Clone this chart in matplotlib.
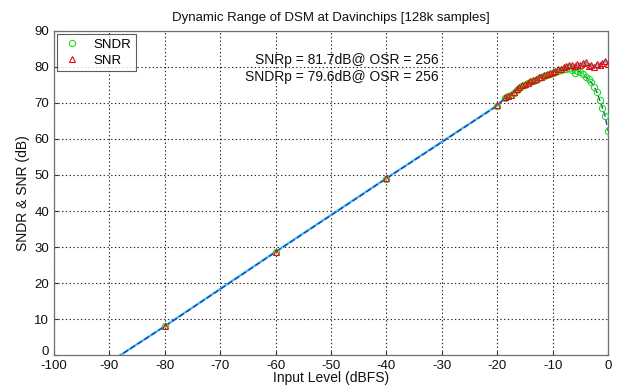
import matplotlib
matplotlib.use("Agg")
import matplotlib.pyplot as plt
import matplotlib.transforms as mtransforms
import numpy as np

plt.rcParams['font.family'] = ['Liberation Sans', 'DejaVu Sans']
plt.rcParams['axes.unicode_minus'] = False

# Input levels (dBFS): coarse sweep, then a fine sweep near full scale
input_level = [-90, -80, -60, -40, -20,
               -18.5, -18, -17.5, -17, -16.5, -16, -15.5, -15, -14.5, -14,
               -13.5, -13, -12.5, -12, -11.5, -11, -10.5, -10, -9.5, -9,
               -8.5, -8, -7.5, -7, -6.5, -6, -5.5, -5, -4.5, -4,
               -3.5, -3, -2.5, -2, -1.5, -1, -0.5, 0]

snr = [-2.0, 8.05, 28.7, 49.1, 69.3,
       71.6, 71.9, 72.3, 73.0, 73.8, 74.4, 74.9, 75.3, 75.6, 76.0,
       76.3, 76.7, 77.1, 77.3, 77.8, 78.0, 78.4, 78.6, 79.0, 79.3,
       79.5, 79.9, 80.2, 80.6, 80.4, 80.2, 80.7, 80.5, 81.0, 81.3,
       80.3, 80.6, 80.0, 80.8, 80.4, 81.0, 81.7, 80.9]

sndr = [-2.0, 8.0, 28.6, 49.0, 69.2,
        71.5, 71.8, 72.2, 72.8, 73.6, 74.2, 74.7, 75.1, 75.4, 75.8,
        76.1, 76.5, 76.8, 77.1, 77.5, 77.8, 78.1, 78.3, 78.6, 78.9,
        79.1, 79.3, 79.5, 79.6, 79.2, 78.3, 78.9, 78.6, 78.0, 77.2,
        76.6, 75.7, 74.5, 73.0, 70.8, 68.7, 66.3, 62.3]

snr_peak = 81.7
sndr_peak = 79.6
osr = 256

x_ticks = list(range(-100, 1, 10))
y_ticks = list(range(0, 91, 10))

fig = plt.figure(figsize=(6.21, 3.86), dpi=100)
ax = fig.add_axes([0.087, 0.080, 0.892, 0.840])

x = np.array(input_level)
ax.plot(x, snr, '-', color='#3fbcf0', lw=1.6, zorder=2)
ax.plot(x, sndr, '--', color='#1d3fae', lw=1.0, dashes=(4, 2), zorder=3)
ax.plot(x, sndr, 'o', ms=4.5, mfc='none', mec='#22dd22', mew=0.8,
        label='SNDR', zorder=4)
ax.plot(x, snr, '^', ms=4.5, mfc='none', mec='#e01010', mew=0.8,
        label='SNR', zorder=5)

ax.set_xlim(-100, 0)
ax.set_ylim(0, 90)
ax.set_xticks(x_ticks)
ax.set_yticks(y_ticks)
ax.grid(True, color='#222222', linestyle=(0, (1.2, 2.2)), lw=0.8)
ax.tick_params(direction='in', length=3, labelsize=9.5, colors='#333333',
               labelcolor='#111111')
for s in ax.spines.values():
    s.set_color('#707070')
    s.set_linewidth(0.9)

# lift the bottom y tick label slightly so it clears the first x tick label
lbl0 = ax.get_yticklabels()[0]
lbl0.set_transform(lbl0.get_transform() +
                   mtransforms.ScaledTranslation(0, 3 / 72, fig.dpi_scale_trans))

ax.set_title('Dynamic Range of DSM at Davinchips [128k samples]',
             fontsize=9.5, pad=7, color='#111111')
ax.set_xlabel('Input Level (dBFS)', fontsize=10, labelpad=-1, color='#111111')
ax.set_ylabel('SNDR & SNR (dB)', fontsize=10, labelpad=3, color='#111111')

ax.text(-30.5, 81.9, f'SNRp = {snr_peak}dB@ OSR = {osr}', ha='right',
        va='center', fontsize=10, color='#111111')
ax.text(-30.5, 77.2, f'SNDRp = {sndr_peak}dB@ OSR = {osr}', ha='right',
        va='center', fontsize=10, color='#111111')

leg = ax.legend(loc='upper left', fontsize=9.5, frameon=True, fancybox=False,
                borderaxespad=0.25, handlelength=1.6, borderpad=0.35,
                labelspacing=0.25, handletextpad=0.8)
leg.get_frame().set_edgecolor('#333333')
leg.get_frame().set_linewidth(0.8)

fig.savefig('out.png', dpi=100)
